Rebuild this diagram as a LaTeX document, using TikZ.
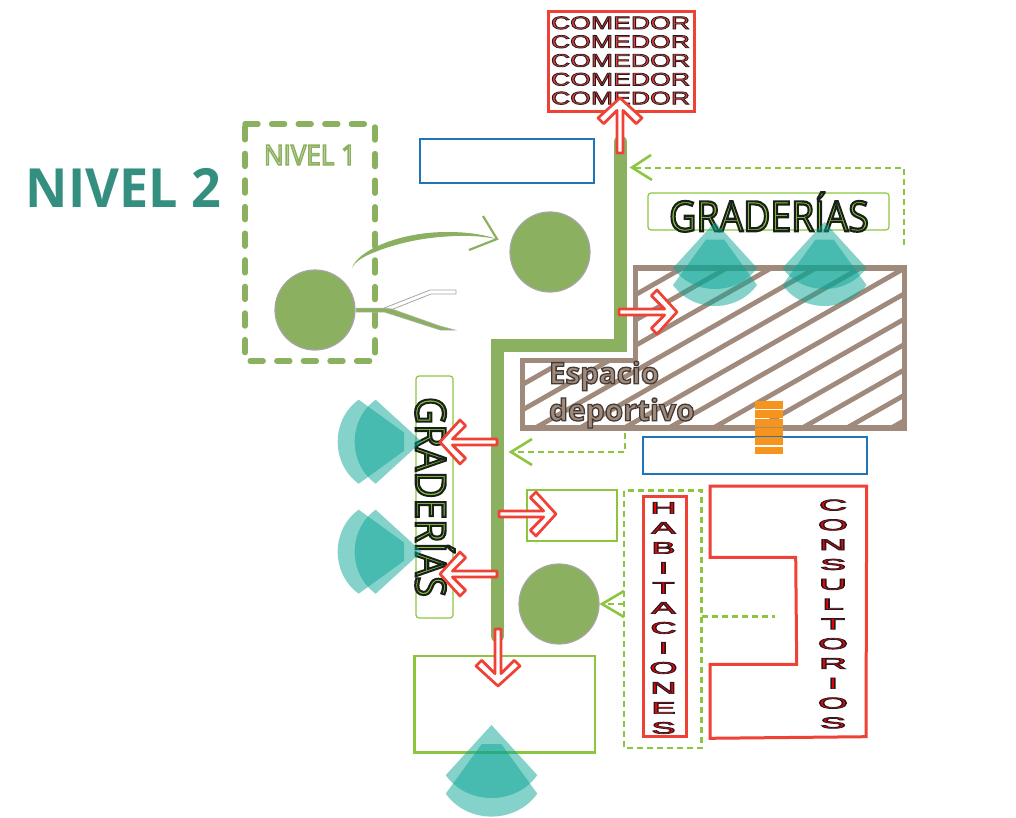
\documentclass[tikz,border=0pt]{standalone}
\usepackage{fontspec}
\setmainfont{Open Sans}
\newfontfamily\arialf{Liberation Sans}
\definecolor{leaf}{HTML}{8BB05F}
\definecolor{lime}{HTML}{8CC63F}
\definecolor{redl}{HTML}{EF4136}
\definecolor{bluel}{HTML}{1F75B8}
\definecolor{taupe}{HTML}{A08A7C}
\definecolor{tealf}{RGB}{11,165,150}
\definecolor{orangeb}{HTML}{F7941E}
\definecolor{titleg}{HTML}{358F80}
% outlined text: stroke rgb, fill colour, stroke width, text
\newcommand\outl[4]{{\color{#2}\special{pdf:code #1 RG #3 w 2 Tr}#4\special{pdf:code 0 Tr}}}
\newcommand\stackon{\special{pdf:code 0.15 0.1 0.12 RG .7 w 2 Tr}}
\newcommand\stackoff{\special{pdf:code 0 Tr}}
\newcommand\redarrow[4]{%
 \draw[redar,shift={(#1,#2)},rotate=#3]
  (0,-3) -- (#4-12.4,-3) -- (#4-25.7,-16.3) -- (#4-20,-22) -- (#4,0)
  -- (#4-20,22) -- (#4-25.7,16.3) -- (#4-12.4,3) -- (0,3) -- cycle;}
\newcommand\fan[4]{%
 \begin{scope}[shift={(#1,#2)},rotate=#3,scale=#4]
  \fill[fanlayer] (0,0) -- (42,46) .. controls (22,74) and (-22,74) .. (-42,46) -- cycle;
  \fill[fanlayer] (9,17.5) -- (42,63) .. controls (22,91) and (-22,91) .. (-42,63) -- (-9,17.5) -- cycle;
 \end{scope}}
\tikzset{
 redar/.style={draw=redl,fill=white,line width=2.7pt,line join=round},
 fanlayer/.style={fill=tealf,fill opacity=.5},
 blob/.style={circle,fill=leaf,draw=black!35,line width=1.2pt,minimum size=80pt,inner sep=0pt},
 bluebox/.style={draw=bluel,line width=2.8pt},
 limebox/.style={draw=lime,line width=2.7pt},
 thinbox/.style={draw=lime,line width=1.2pt,rounded corners=3pt},
 redbox/.style={draw=redl,line width=3pt},
 dashlink/.style={draw=lime,line width=2.5pt,dash pattern=on 6pt off 4pt},
 chev/.style={draw=lime,line width=2.6pt},
 hatchline/.style={draw=taupe,line width=4.8pt},
 txt/.style={inner sep=0pt,outer sep=0pt}
}
\begin{document}
\begin{tikzpicture}[x=1pt,y=-1pt]
\useasboundingbox (0,0) rectangle (1016,818);
% sports area
\begin{scope}
 \clip (635.5,268) -- (904.5,268) -- (904.5,428) -- (522.5,428) -- (522.5,360.5) -- (635.5,360.5) -- cycle;
 \foreach \k in {-1,...,11}{
  \draw[hatchline] ({846.7-44.5*\k},428) -- ++(400,-228);
 }
\end{scope}
\draw[draw=taupe,line width=5.4pt,line join=miter] (635.5,268) -- (904.5,268) -- (904.5,428) -- (522.5,428) -- (522.5,360.5) -- (635.5,360.5) -- cycle;
\node[txt,anchor=west] (esp) at (549,376) {\fontsize{29.5}{29.5}\selectfont\bfseries\outl{0.27 0.23 0.21}{taupe}{1.3}{Espacio}};
\node[txt,anchor=west] (dep) at (549,413) {\fontsize{30}{30}\selectfont\bfseries\outl{0.27 0.23 0.21}{taupe}{1.3}{deportivo}};
% main route
\draw[leaf,line width=13pt,line join=miter,line cap=round] (620.5,142) -- (620.5,345) -- (497.5,345) -- (497.5,636);
% level 1 box
\draw[leaf,line width=5.4pt,line cap=round,dash pattern=on 13pt off 13.6pt] (245,124) -- (375,124) -- (375,361) -- (245,361) -- cycle;
\node[txt] (n1) at (310,155) [xscale=.93] {\fontsize{28}{28}\selectfont\outl{0.545 0.69 0.37}{leaf!45}{1.5}{NIVEL 1}};
\node[txt] (n2) at (123.5,188) [xscale=.965] {\fontsize{54}{54}\selectfont\bfseries\color{titleg}NIVEL 2};
% blue boxes
\draw[bluebox] (420,139) rectangle (594,183);
\draw[bluebox] (643,437) rectangle (867,474);
% circles
\node[blob] (c1) at (315,310) {};
\node[blob] (c2) at (550,252) {};
\node[blob] (c3) at (559,604) {};
% swoosh
\fill[leaf] (352,268) .. controls (358,250) and (400,232) .. (447,232) .. controls (470,232) and (485,235) .. (497,239) .. controls (480,236) and (465,235) .. (447,236.5) .. controls (420,238) and (395,244) .. (375,252) .. controls (362,257) and (355,262) .. (352,268) -- cycle;
\draw[leaf,line width=2.2pt] (483,216) -- (497,239) -- (469,250);
% fork
\draw[fill=white,draw=black!35,line width=.8pt] (383,308.5) -- (430,290) -- (456,290) -- (456,294) -- (431,294) -- (392,309.5) -- cycle;
\fill[leaf,draw=black!30,line width=.5pt] (356,308) -- (384,308) -- (392,309) -- (440,326) -- (455,330) -- (440,330) -- (384,312) -- (356,312) -- cycle;
% boxes
\draw[limebox] (527,490) rectangle (617,541);
\draw[limebox] (414.5,656) rectangle (595,752.5);
% dashed links
\draw[dashlink] (904,245) -- (904,168) -- (634,168);
\draw[chev] (651,155) -- (632,167.5) -- (652,180);
\draw[dashlink] (625,433) -- (625,452) -- (513,452);
\draw[chev] (532,439) -- (511,452) -- (532,465);
\draw[dashlink] (624,604) -- (604,604);
\draw[chev] (624,591) -- (602,604) -- (624,617);
\draw[dashlink] (624,490.5) rectangle (701.5,748);
\draw[dashlink] (702,616.5) -- (775,616.5);
% graderias
\draw[thinbox] (648,193) rectangle (889,230);
\node[txt] (g1) at (769,212) [xscale=.89] {\fontsize{42}{42}\selectfont\outl{0.1 0.12 0.1}{lime}{2.2}{GRADERÍAS}};
\draw[thinbox] (416,376) rectangle (453,618);
\node[txt,rotate=-90] (g2) at (435,497) [xscale=.89] {\fontsize{42}{42}\selectfont\outl{0.1 0.12 0.1}{lime}{2.2}{GRADERÍAS}};
% viewing fans
\fan{715}{222}{0}{1}
\fan{824.5}{222}{0}{1}
\fan{421.7}{441.7}{-90}{1}
\fan{421.7}{551.7}{-90}{1}
\fan{491.5}{725}{0}{1.09}
% comedor
\draw[redbox] (548,12) rectangle (694,112);
\node[txt,align=center,text=redl,font=\arialf\fontsize{18}{18.8}\selectfont] (com) at (620.5,60.5) [xscale=1.48] {\stackon COMEDOR\\COMEDOR\\COMEDOR\\COMEDOR\\COMEDOR\stackoff};
% habitaciones
\draw[redbox] (643,496.7) rectangle (686,736.7);
\node[txt,align=center,text=red,font=\arialf\fontsize{16.5}{20}\selectfont] (hab) at (663.5,618) [xscale=2.2] {\stackon H\\A\\B\\I\\T\\A\\C\\I\\O\\N\\E\\S\stackoff};
% consultorios
\draw[redbox] (710,486) -- (866.7,486) -- (866,736.7) -- (710,738.3) -- (710,664.3) -- (796.7,664.3) -- (795.7,557.3) -- (710,557.3) -- cycle;
\node[txt,align=center,text=red,font=\arialf\fontsize{15.5}{19.8}\selectfont] (con) at (833,614) [xscale=2.5] {\stackon C\\O\\N\\S\\U\\L\\T\\O\\R\\I\\O\\S\stackoff};
% orange bars
\foreach \k in {0,...,5}{
 \fill[orangeb] (755,{401+9.1*\k}) rectangle (783,{401+9.1*\k+7.9});
}
% red arrows
\redarrow{620}{153}{90}{55}
\redarrow{619}{312}{0}{58}
\redarrow{497}{442}{180}{57}
\redarrow{499}{514}{0}{57}
\redarrow{497}{574}{180}{57}
\redarrow{498}{629}{-90}{57}
\end{tikzpicture}
\end{document}
